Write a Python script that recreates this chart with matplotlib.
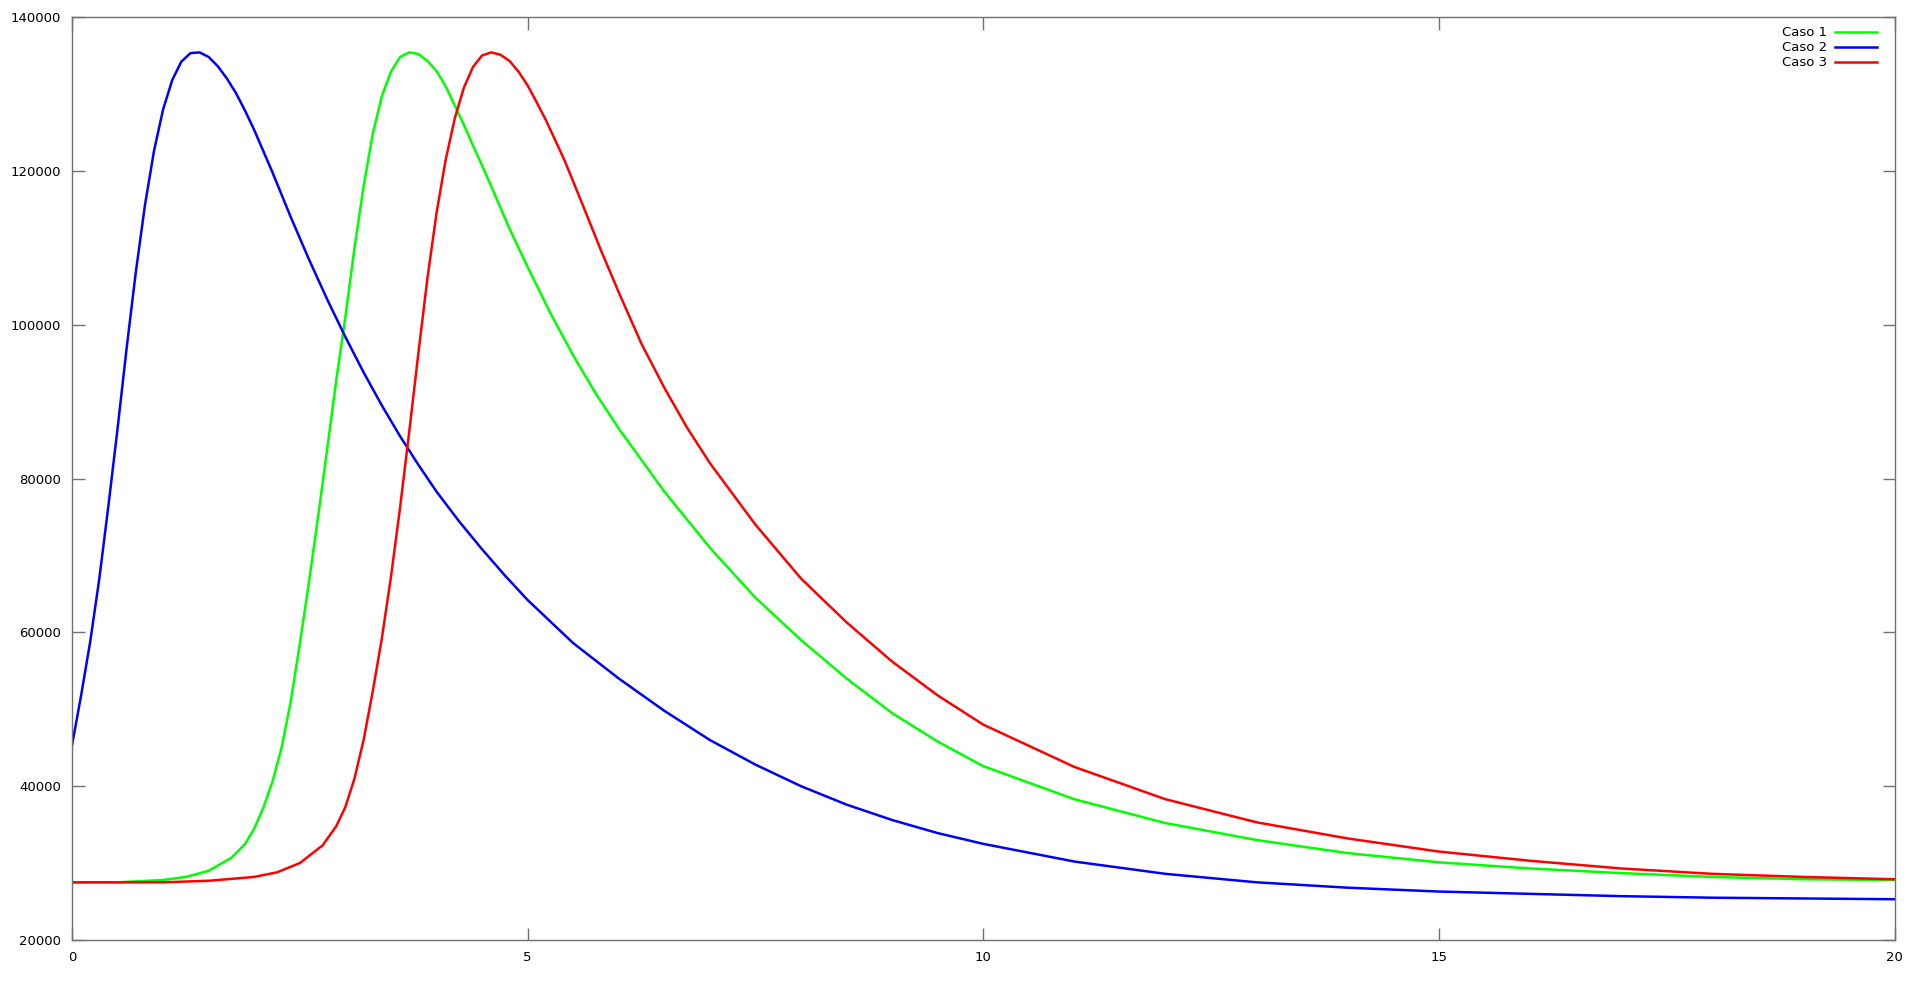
import matplotlib
matplotlib.use("Agg")
import matplotlib.pyplot as plt

# ==========================
# Data
# ==========================

x_caso1 = [0, 0.5, 1.0, 1.25, 1.5, 1.75, 1.9, 2.0, 2.1, 2.2, 2.3, 2.4, 2.5, 2.6, 2.7, 2.8, 2.9,
           3.0, 3.1, 3.2, 3.3, 3.4, 3.5, 3.6, 3.7, 3.8, 3.9, 4.0, 4.1, 4.2, 4.3, 4.4, 4.5,
           4.6, 4.8, 5.0, 5.25, 5.5, 5.75, 6.0, 6.5, 7.0, 7.5, 8.0, 8.5, 9.0, 9.5, 10, 11,
           12, 13, 14, 15, 16, 17, 18, 19, 20]
y_caso1 = [27500, 27500, 27800, 28200, 29000, 30700, 32500, 34500, 37200, 40600, 45000, 51000,
           58500, 66500, 75000, 83800, 92800, 101000, 110000, 118000, 124800, 129700, 132900,
           134800, 135400, 135200, 134300, 133000, 131000, 128500, 126000, 123300, 120700,
           118000, 112500, 107500, 101500, 96000, 91000, 86500, 78300, 71000, 64500, 59000,
           54000, 49500, 45800, 42600, 38300, 35200, 33000, 31300, 30100, 29300, 28700, 28200,
           27900, 27800]

x_caso2 = [0, 0.1, 0.2, 0.3, 0.4, 0.5, 0.6, 0.7, 0.8, 0.9, 1.0, 1.1, 1.2, 1.3, 1.4, 1.5, 1.6,
           1.7, 1.8, 1.9, 2.0, 2.2, 2.4, 2.6, 2.8, 3.0, 3.2, 3.4, 3.6, 3.8, 4.0, 4.25, 4.5,
           4.75, 5.0, 5.5, 6.0, 6.5, 7.0, 7.5, 8.0, 8.5, 9.0, 9.5, 10, 11, 12, 13, 14, 15, 16,
           17, 18, 19, 20]
y_caso2 = [45300, 51800, 58800, 67000, 76500, 86500, 97000, 106800, 115500, 122600, 128000,
           131800, 134200, 135300, 135400, 134800, 133600, 132000, 130100, 127800, 125300,
           119800, 114000, 108500, 103300, 98400, 93800, 89500, 85500, 81800, 78300, 74400,
           70800, 67400, 64200, 58600, 54000, 49800, 46000, 42800, 40000, 37600, 35600, 33900,
           32500, 30200, 28600, 27500, 26800, 26300, 26000, 25700, 25500, 25400, 25300]

x_caso3 = [0, 1.0, 1.5, 2.0, 2.25, 2.5, 2.75, 2.9, 3.0, 3.1, 3.2, 3.3, 3.4, 3.5, 3.6, 3.7, 3.8,
           3.9, 4.0, 4.1, 4.2, 4.3, 4.4, 4.5, 4.6, 4.7, 4.8, 4.9, 5.0, 5.1, 5.2, 5.4, 5.6, 5.8,
           6.0, 6.25, 6.5, 6.75, 7.0, 7.5, 8.0, 8.5, 9.0, 9.5, 10, 11, 12, 13, 14, 15, 16, 17,
           18, 19, 20]
y_caso3 = [27500, 27500, 27700, 28200, 28800, 30000, 32300, 34800, 37300, 41000, 46000, 52300,
           59200, 67200, 76200, 86000, 96200, 106000, 114500, 121400, 126800, 130800, 133500,
           135000, 135400, 135100, 134300, 132900, 131100, 128900, 126600, 121500, 115700,
           109800, 104200, 97500, 91800, 86600, 82000, 74000, 67000, 61300, 56200, 51800,
           48000, 42500, 38300, 35300, 33200, 31500, 30300, 29300, 28600, 28200, 27900]

labels = ["Caso 1", "Caso 2", "Caso 3"]
colors = ["#00ff00", "#0000ff", "#ff0000"]

x_ticks = [0, 5, 10, 15, 20]
y_ticks = [20000, 40000, 60000, 80000, 100000, 120000, 140000]

# ==========================
# Plot
# ==========================

fig = plt.figure(figsize=(19.2, 10.02), dpi=100)
ax = fig.add_axes([72 / 1920, 1 - 940 / 1002, (1894.5 - 72) / 1920, (940 - 17) / 1002])

series = [(x_caso1, y_caso1), (x_caso2, y_caso2), (x_caso3, y_caso3)]
for (xs, ys), label, color in zip(series, labels, colors):
    ax.plot(xs, ys, color=color, linewidth=1.8, label=label,
            solid_joinstyle="round")

ax.set_xlim(0, 20)
ax.set_ylim(20000, 140000)
ax.set_xticks(x_ticks)
ax.set_yticks(y_ticks)

for spine in ax.spines.values():
    spine.set_color("#707070")
    spine.set_linewidth(1.0)

ax.tick_params(direction="in", length=9, width=1, color="#707070",
               top=True, right=True, labelsize=9.5, labelcolor="black")
ax.tick_params(axis="x", pad=8)
ax.tick_params(axis="y", pad=8)

leg = ax.legend(loc="upper right", bbox_to_anchor=(1 - 8 / 1822, 1),
                frameon=False, markerfirst=False,
                fontsize=9.5, handlelength=3.2, handletextpad=0.6,
                labelspacing=0.15, borderaxespad=0.3)

fig.savefig("out.png", dpi=100)
